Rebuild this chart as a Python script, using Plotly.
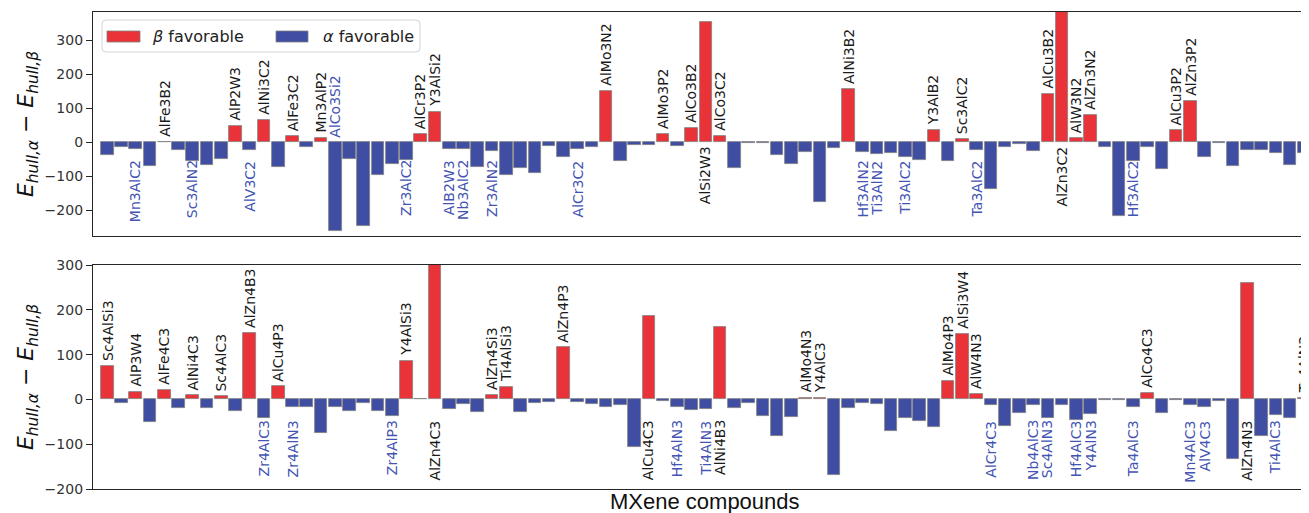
import plotly.graph_objects as go

# ---------------- data ----------------
top_values = [-36, -13, -19, -68, 1, -23, -54, -67, -49, 48,
              -23, 65, -73, 18, -13, 13, -259, -49, -246, -95,
              -64, -51, 25, 90, -20, -19, -73, -25, -95, -75,
              -91, -10, -44, -18, -14, 152, -54, -9, -8, 25,
              -12, 43, 353, 18, -74, -3, -3, -36, -63, -28,
              -175, -16, 156, -28, -33, -30, -44, -52, 35, -54,
              10, -22, -136, -15, -5, -25, 143, 410, 13, 80,
              -13, -215, -54, -13, -77, 35, 123, -44, -3, -69,
              -21, -21, -30, -67, -30]
top_labels = ["", "", "Mn3AlC2", "", "AlFe3B2", "", "Sc3AlN2", "", "", "AlP2W3",
              "AlV3C2", "AlNi3C2", "", "AlFe3C2", "", "Mn3AlP2", "AlCo3Si2", "", "", "",
              "", "Zr3AlC2", "AlCr3P2", "Y3AlSi2", "AlB2W3", "Nb3AlC2", "", "Zr3AlN2", "", "",
              "", "", "", "AlCr3C2", "", "AlMo3N2", "", "", "", "AlMo3P2",
              "", "AlCo3B2", "AlSi2W3", "AlCo3C2", "", "", "", "", "", "",
              "", "", "AlNi3B2", "Hf3AlN2", "Ti3AlN2", "", "Ti3AlC2", "", "Y3AlB2", "",
              "Sc3AlC2", "Ta3AlC2", "", "", "", "", "AlCu3B2", "AlZn3C2", "AlW3N2", "AlZn3N2",
              "", "", "Hf3AlC2", "", "", "AlCu3P2", "AlZn3P2", "", "", "",
              "", "", "", "", ""]

bottom_values = [74, -7, 17, -50, 21, -19, 9, -19, 7, -26,
                 149, -42, 29, -16, -16, -75, -16, -26, -7, -26,
                 -38, 85, 1, 320, -21, -10, -27, 9, 27, -28,
                 -7, -5, 116, -6, -10, -16, -13, -107, 187, -4,
                 -16, -24, -22, 161, -19, -7, -36, -81, -39, 4,
                 4, -169, -19, -7, -10, -71, -42, -48, -61, 42,
                 147, 11, -13, -60, -31, -13, -41, -13, -45, -33,
                 -1, -1, -16, 15, -31, -1, -12, -16, -4, -133,
                 260, -81, -34, -41, 3]
bottom_labels = ["Sc4AlSi3", "", "AlP3W4", "", "AlFe4C3", "", "AlNi4C3", "", "Sc4AlC3", "",
                 "AlZn4B3", "Zr4AlC3", "AlCu4P3", "Zr4AlN3", "", "", "", "", "", "",
                 "Zr4AlP3", "Y4AlSi3", "", "AlZn4C3", "", "", "", "AlZn4Si3", "Ti4AlSi3", "",
                 "", "", "AlZn4P3", "", "", "", "", "", "AlCu4C3", "",
                 "Hf4AlN3", "", "Ti4AlN3", "AlNi4B3", "", "", "", "", "", "AlMo4N3",
                 "Y4AlC3", "", "", "", "", "", "", "", "", "AlMo4P3",
                 "AlSi3W4", "AlW4N3", "AlCr4C3", "", "", "Nb4AlC3", "Sc4AlN3", "", "Hf4AlC3", "Y4AlN3",
                 "", "", "Ta4AlC3", "AlCo4C3", "", "", "Mn4AlC3", "AlV4C3", "", "",
                 "AlZn4N3", "", "Ti4AlC3", "", "Ta4AlN3"]

# labels of beta-favorable bars written under the axis, and alpha label written above it
labels_below_axis = ["AlSi2W3", "AlZn3C2", "AlZn4C3", "AlCu4C3", "AlNi4B3", "AlZn4N3"]
labels_above_axis = ["AlCo3Si2"]

legend_names = ["<i>β</i> favorable", "<i>α</i> favorable"]
x_title = "MXene compounds"
y_title = "<i>E<sub>hull,α</sub></i> − <i>E<sub>hull,β</sub></i>"

# ---------------- style ----------------
RED = "#EA3339"
BLUE = "#3F4EA2"
EDGE = "#808080"
LBL_BLACK = "#1a1a1a"
LBL_BLUE = "#4354B2"
AX = "#262626"
FONT = "DejaVu Sans"

OFF = 8                      # page body margin of the browser
WIN_W, WIN_H = 1309, 513
W, H = WIN_W - OFF, WIN_H - OFF
LEFT_PX, TOP_PX, BOTTOM_PX = 93, 12, 489     # window pixel positions of the plot area
ML, MR, MT, MB = LEFT_PX - OFF, 0, TOP_PX - OFF, (WIN_H - BOTTOM_PX)
PW, PH = W - ML - MR, H - MT - MB


def px_x(px):
    return (px - LEFT_PX) / PW


def px_y(py):
    return (BOTTOM_PX - py) / PH


top_dom = [px_y(236), px_y(12)]
bot_dom = [px_y(489), px_y(265)]
x_range = [-1.0, 84.33]

fig = go.Figure()


def add_panel(values, labels, xa, ya, below_blue_px, below_red_px):
    xs = list(range(len(values)))
    colors = [RED if v > 0 else BLUE for v in values]
    fig.add_trace(go.Bar(
        x=xs, y=values, width=0.88,
        marker=dict(color=colors, line=dict(color=EDGE, width=0.8)),
        xaxis=xa, yaxis=ya, showlegend=False, hoverinfo="x+y",
    ))
    for i, (v, name) in enumerate(zip(values, labels)):
        if not name:
            continue
        col = LBL_BLACK if v > 0 else LBL_BLUE
        if (v > 0 and name not in labels_below_axis) or name in labels_above_axis:
            y, yanchor, yshift = max(v, 0), "bottom", 4
        else:
            y, yanchor = 0, "top"
            yshift = -(below_red_px if v > 0 else below_blue_px)
        fig.add_annotation(
            x=i, y=y, xref=xa, yref=ya, text=name, showarrow=False,
            textangle=-90, xanchor="center", yanchor=yanchor, yshift=yshift,
            font=dict(family=FONT, size=14, color=col), borderpad=0,
        )


add_panel(top_values, top_labels, "x", "y", 17, 3)
add_panel(bottom_values, bottom_labels, "x2", "y2", 20, 20)

axis_common = dict(showgrid=False, zeroline=False, showline=True,
                   linecolor=AX, linewidth=1.3)
xcommon = dict(axis_common, range=x_range, showticklabels=False, ticks="",
               mirror=True, domain=[0, 1])
ycommon = dict(axis_common, dtick=100, tick0=0, ticks="outside", ticklen=6,
               tickwidth=1.2, tickcolor=AX, mirror=False,
               tickfont=dict(family=FONT, size=14, color="#333333"),
               title=dict(text=y_title, standoff=4,
                          font=dict(family=FONT, size=22, color="#111111")))

fig.update_layout(
    width=W, height=H,
    margin=dict(l=ML, r=MR, t=MT, b=MB, autoexpand=False),
    paper_bgcolor="white", plot_bgcolor="white",
    bargap=0,
    showlegend=False,
    xaxis=dict(xcommon, anchor="y"),
    yaxis=dict(ycommon, domain=top_dom, range=[-275, 383], anchor="x"),
    xaxis2=dict(xcommon, anchor="y2"),
    yaxis2=dict(ycommon, domain=bot_dom, range=[-200, 300], anchor="x2"),
)

# x-axis title
fig.add_annotation(x=px_x(705), y=px_y(502), xref="paper", yref="paper",
                   text=x_title, showarrow=False, xanchor="center", yanchor="middle",
                   font=dict(family="Liberation Sans", size=22, color="#111111"))


# custom legend (matplotlib-like wide patches)
def rounded_rect(x0, y0, x1, y1, r=4):
    X = lambda p: px_x(p)
    Y = lambda p: px_y(p)
    return (f"M {X(x0 + r)} {Y(y0)} L {X(x1 - r)} {Y(y0)} Q {X(x1)} {Y(y0)} {X(x1)} {Y(y0 + r)} "
            f"L {X(x1)} {Y(y1 - r)} Q {X(x1)} {Y(y1)} {X(x1 - r)} {Y(y1)} "
            f"L {X(x0 + r)} {Y(y1)} Q {X(x0)} {Y(y1)} {X(x0)} {Y(y1 - r)} "
            f"L {X(x0)} {Y(y0 + r)} Q {X(x0)} {Y(y0)} {X(x0 + r)} {Y(y0)} Z")


fig.add_shape(type="path", path=rounded_rect(102, 20, 420, 52), xref="paper", yref="paper",
              line=dict(color="#d4d4d4", width=1), fillcolor="rgba(255,255,255,0.85)",
              layer="above")
for (x0, x1, tx), col, name in zip([(107, 140, 150), (276, 308, 321)], [RED, BLUE], legend_names):
    fig.add_shape(type="rect", xref="paper", yref="paper",
                  x0=px_x(x0), x1=px_x(x1), y0=px_y(42), y1=px_y(31),
                  fillcolor=col, line=dict(color=EDGE, width=0.8), layer="above")
    fig.add_annotation(x=px_x(tx), y=px_y(36.5), xref="paper", yref="paper", text=name,
                       showarrow=False, xanchor="left", yanchor="middle",
                       font=dict(family=FONT, size=16, color="#222222"))

fig.write_html("out.html")
